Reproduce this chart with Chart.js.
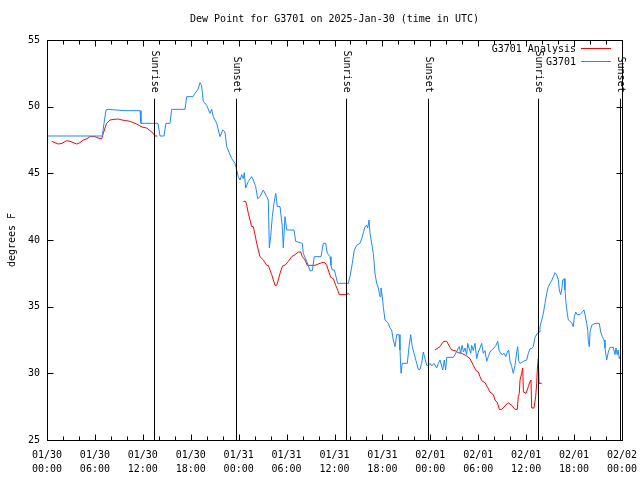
<!DOCTYPE html>
<html>
<head>
<meta charset="utf-8">
<script src="https://cdn.jsdelivr.net/npm/chart.js@4.4.1/dist/chart.umd.min.js"></script>
<style>
  body { margin: 0; background: #fff; }
</style>
</head>
<body>
<canvas id="dewChart" width="640" height="480"></canvas>
<script>
// all times are hours after 2025-01-30 00:00 UTC
const stationHours = [
  0, 6.92, 7.14, 7.39, 7.64, 9.77, 11.65, 11.77, 13.9, 14.15, 14.65, 14.9, 15.4, 15.61, 17.28, 17.49,
  18.28, 18.53, 18.91, 19.16, 19.35, 19.57, 20.0, 20.41, 20.62, 20.82, 21.25, 21.66, 22.0, 22.29, 22.5,
  23.13, 23.54, 23.75, 23.95, 24.17, 24.38, 24.58, 24.71, 24.88, 25.21, 25.63, 25.83, 26.13, 26.38,
  26.67, 27.09, 27.51, 27.71, 27.84, 28.01, 28.21, 28.42, 28.64, 28.84, 29.18, 29.46, 29.59, 29.8,
  30.02, 30.93, 31.14, 31.97, 32.09, 32.52, 32.93, 33.22, 33.47, 34.31, 34.6, 34.9, 35.1, 35.44,
  35.56, 35.72, 35.98, 36.19, 36.4, 37.73, 37.94, 38.23, 38.48, 38.78, 39.19, 39.41, 39.82, 40.03,
  40.16, 40.32, 40.45, 40.86, 41.07, 41.28, 41.49, 41.7, 41.82, 41.99, 42.11, 42.32, 42.74, 42.95,
  43.16, 43.36, 43.58, 43.79, 44.08, 44.2, 44.33, 44.49, 45.12, 45.33, 45.54, 45.74, 45.96, 46.29,
  46.49, 46.71, 46.92, 47.12, 47.33, 47.55, 47.75, 47.96, 48.17, 48.46, 48.8, 49.0, 49.21, 49.55,
  49.75, 49.92, 50.05, 50.88, 51.09, 51.38, 51.63, 51.8, 51.97, 52.15, 52.34, 52.55, 52.68, 52.84,
  53.06, 53.18, 53.38, 53.59, 53.81, 54.01, 54.22, 54.43, 54.63, 54.84, 55.06, 55.26, 55.47, 55.68,
  55.97, 56.22, 56.44, 56.6, 56.81, 57.01, 57.23, 57.44, 57.64, 57.81, 57.98, 58.19, 58.39, 58.6,
  58.82, 58.94, 59.07, 59.23, 59.64, 60.07, 60.27, 60.48, 60.69, 60.89, 61.11, 61.4, 61.61, 61.73,
  61.95, 62.15, 62.36, 62.57, 62.77, 62.99, 63.2, 63.4, 63.61, 63.82, 64.03, 64.15, 64.33, 64.45,
  64.58, 64.74, 64.86, 64.99, 65.15, 65.28, 65.49, 65.7, 65.9, 66.03, 66.2, 66.4, 66.74, 67.03,
  67.24, 67.37, 67.58, 67.71, 67.78, 67.91, 68.0, 68.21, 68.62, 69.16, 69.33, 69.53, 69.75, 69.87,
  70.08, 70.29, 70.5, 70.91, 71.12, 71.25, 71.39, 71.52, 71.66, 71.75
];
const stationDew = [
  47.8, 47.8, 48.75, 49.75, 49.8, 49.7, 49.7, 48.75, 48.75, 47.8, 47.8, 48.75, 48.75, 49.8, 49.8, 50.75,
  50.75, 51.0, 51.3, 51.8, 51.6, 50.4, 50.1, 49.5, 49.8, 49.25, 48.75, 47.75, 48.25, 48.1, 47.0,
  46.1, 45.75, 45.25, 44.75, 44.5, 44.9, 44.6, 45.05, 43.9, 44.4, 44.75, 44.5, 44.0, 43.1,
  43.25, 43.75, 43.25, 43.0, 39.4, 40.25, 41.75, 42.75, 43.5, 42.5, 42.5, 41.0, 39.4, 41.75,
  40.75, 40.75, 39.9, 39.75, 39.0, 38.4, 37.7, 37.7, 38.75, 38.75, 39.75, 39.75, 39.0, 38.75,
  38.1, 37.75, 37.75, 37.25, 36.75, 36.75, 37.25, 38.25, 39.25, 39.6, 39.75, 40.1, 41.0, 41.1,
  40.9, 41.5, 40.5, 39.0, 37.5, 36.75, 36.4, 35.75, 36.4, 35.75, 35.0, 34.0, 33.75, 33.4,
  33.25, 32.5, 32.0, 32.9, 32.9, 31.75, 30.0, 30.75, 30.75, 32.0, 32.9, 32.0, 31.5, 30.75,
  30.3, 30.3, 30.75, 31.6, 31.1, 30.6, 30.6, 30.75, 30.55, 30.75, 30.4, 30.75, 31.0, 30.25,
  31.0, 30.25, 31.2, 31.2, 31.4, 31.75, 32.0, 31.5, 32.1, 31.6, 31.9, 31.4, 32.25, 31.9,
  31.5, 32.1, 31.7, 32.25, 31.1, 31.6, 31.9, 32.25, 31.5, 31.7, 30.9, 31.25, 31.6, 31.75,
  31.9, 32.1, 32.4, 31.75, 31.5, 31.4, 31.5, 31.25, 31.6, 31.75, 30.9, 30.5, 30.0, 30.6,
  31.6, 32.0, 30.9, 30.75, 30.9, 31.0, 31.5, 31.85, 31.85, 32.0, 32.7, 33.0, 33.1, 33.5,
  34.0, 34.5, 35.25, 36.0, 36.5, 36.75, 36.95, 37.25, 37.55, 37.4, 37.0, 36.25, 35.9, 36.25,
  37.0, 37.1, 36.25, 35.25, 34.5, 34.0, 33.9, 33.8, 33.5, 34.25, 34.6, 34.4, 34.4, 34.6,
  34.75, 34.4, 33.75, 33.25, 32.4, 32.0, 33.1, 33.6, 33.75, 33.75, 33.1, 32.75, 32.5, 31.9,
  31.0, 31.6, 31.95, 31.95, 31.4, 31.9, 31.4, 31.75, 31.1, 31.25
];

// analysis has no values during daylight (null = gap)
const analysisHours = [
  0.59, 1.42, 1.88, 2.47, 2.88, 3.72, 4.13, 4.55, 5.01, 5.38, 6.01, 6.39, 6.85, 7.05, 7.26, 7.47,
  7.89, 8.39, 8.93, 9.39, 9.98, 10.39, 10.8, 11.23, 11.65, 12.03, 12.48, 12.9, 13.3, 13.52, 13.81,
  19,
  24.58, 24.88, 25.01, 25.21, 25.42, 25.63, 25.83, 26.05, 26.26, 26.46, 26.67, 27.09, 27.51, 27.71,
  27.92, 28.14, 28.34, 28.55, 28.76, 28.96, 29.18, 29.39, 29.59, 29.8, 30.22, 30.64, 31.05, 31.47,
  31.77, 31.97, 32.31, 32.59, 33.02, 33.56, 33.97, 34.4, 34.81, 35.02, 35.22, 35.52, 35.85, 36.15,
  36.4, 36.6, 37.53, 37.73, 37.85,
  43,
  48.58, 49.21, 49.52, 49.71, 50.05, 50.46, 50.68, 51.09, 51.5, 51.93, 52.55, 52.97, 53.38, 53.72,
  54.01, 54.22, 54.43, 54.84, 55.13, 55.47, 55.89, 56.1, 56.39, 56.64, 56.94, 57.35, 57.73, 58.19,
  58.6, 58.89, 59.01, 59.14, 59.23, 59.44, 59.57, 59.65, 59.98, 60.27, 60.48, 60.6, 60.69, 60.98,
  61.19, 61.32, 61.39, 61.52, 61.61, 61.95
];
const analysisDew = [
  47.4, 47.2, 47.25, 47.45, 47.4, 47.2, 47.3, 47.5, 47.6, 47.75, 47.75, 47.65, 47.6, 48.0, 48.4, 48.75,
  49.0, 49.05, 49.07, 49.0, 48.95, 48.9, 48.8, 48.7, 48.55, 48.45, 48.4, 48.2, 48.0, 47.8, 47.8,
  null,
  42.9, 42.9, 42.6, 42.0, 41.5, 41.0, 41.0, 40.4, 39.75, 39.25, 38.75, 38.5, 38.1, 38.1,
  37.75, 37.4, 37.0, 36.6, 36.6, 37.0, 37.5, 37.9, 38.1, 38.1, 38.4, 38.75, 38.9, 39.1,
  39.1, 38.75, 38.5, 38.1, 38.1, 38.1, 38.2, 38.3, 38.3, 38.1, 37.75, 37.2, 37.1, 36.6,
  36.25, 35.9, 35.9, 36.0, 35.9,
  null,
  31.75, 32.0, 32.3, 32.4, 32.4, 31.95, 31.75, 31.7, 31.55, 31.5, 31.3, 31.1, 30.6, 30.2,
  30.1, 29.75, 29.45, 29.3, 29.0, 28.6, 28.4, 28.0, 27.8, 27.3, 27.3, 27.55, 27.8, 27.6,
  27.3, 27.3, 28.25, 28.5, 29.5, 30.0, 30.4, 28.6, 28.5, 29.0, 29.4, 29.5, 27.4, 27.4,
  28.25, 29.25, 30.25, 31.1, 29.25, 29.25
];

const sunNames = ['Sunrise', 'Sunset', 'Sunrise', 'Sunset', 'Sunrise', 'Sunset'];
const sunHours = [13.45, 23.7, 37.45, 47.75, 61.5, 71.8];

const dayLabels = ['01/30', '01/30', '01/30', '01/30', '01/31', '01/31', '01/31', '01/31',
  '02/01', '02/01', '02/01', '02/01', '02/02'];
const timeLabels = ['00:00', '06:00', '12:00', '18:00', '00:00', '06:00', '12:00', '18:00',
  '00:00', '06:00', '12:00', '18:00', '00:00'];

const mono = '"DejaVu Sans Mono", "Liberation Mono", monospace';

function toPoints(xs, ys) {
    return xs.map((x, i) => ({ x: x, y: ys[i] }));
}

// gnuplot style frame, inward ticks, sun markers, title and legend
const gnuplotDecor = {
    id: 'gnuplotDecor',
    afterDraw(chart) {
        const ctx = chart.ctx;
        const area = chart.chartArea;
        const xs = chart.scales.x;
        const ys = chart.scales.y;
        const L = Math.round(area.left) + 0.5, R = Math.round(area.right) + 0.5;
        const T = Math.round(area.top) + 0.5, B = Math.round(area.bottom) + 0.5;
        ctx.save();
        ctx.strokeStyle = '#000';
        ctx.lineWidth = 1;
        ctx.strokeRect(L, T, R - L, B - T);

        ctx.beginPath();
        for (let h = 0; h <= 72; h += 2) {
            const px = Math.round(xs.getPixelForValue(h)) + 0.5;
            const len = h % 6 === 0 ? 6 : 4;
            ctx.moveTo(px, B); ctx.lineTo(px, B - len);
            ctx.moveTo(px, T); ctx.lineTo(px, T + len);
        }
        for (let v = 25; v <= 55; v += 5) {
            const py = Math.round(ys.getPixelForValue(v)) + 0.5;
            ctx.moveTo(L, py); ctx.lineTo(L + 6, py);
            ctx.moveTo(R, py); ctx.lineTo(R - 6, py);
        }
        ctx.stroke();

        // sunrise / sunset markers
        ctx.fillStyle = '#000';
        ctx.font = '10px ' + mono;
        sunHours.forEach((h, i) => {
            const px = Math.round(xs.getPixelForValue(h)) + 0.5;
            const top = ys.getPixelForValue(50.6);
            ctx.beginPath();
            ctx.moveTo(px, B);
            ctx.lineTo(px, top);
            ctx.stroke();
            ctx.save();
            ctx.translate(px, top - 6);
            ctx.rotate(Math.PI / 2);
            ctx.textAlign = 'right';
            ctx.textBaseline = 'middle';
            ctx.fillText(sunNames[i], 0, 0);
            ctx.restore();
        });

        // title
        ctx.textAlign = 'center';
        ctx.textBaseline = 'middle';
        ctx.fillText('Dew Point for G3701 on 2025-Jan-30 (time in UTC)', (area.left + area.right) / 2, 19);

        // legend
        const rows = [chart.data.datasets[1], chart.data.datasets[0]];
        rows.forEach((ds, i) => {
            const y = 49 + i * 13;
            ctx.textAlign = 'right';
            ctx.fillStyle = '#000';
            ctx.fillText(ds.label, 576, y);
            ctx.strokeStyle = ds.borderColor;
            ctx.beginPath();
            ctx.moveTo(581, y - 0.5);
            ctx.lineTo(611, y - 0.5);
            ctx.stroke();
        });
        ctx.restore();
    }
};

new Chart(document.getElementById('dewChart'), {
    type: 'line',
    data: {
        datasets: [{
            label: 'G3701',
            data: toPoints(stationHours, stationDew),
            borderColor: '#1e88ff',
            borderWidth: 1,
            pointRadius: 0,
            tension: 0,
            order: 0
        }, {
            label: 'G3701 Analysis',
            data: toPoints(analysisHours, analysisDew),
            borderColor: '#ff0000',
            borderWidth: 1,
            pointRadius: 0,
            tension: 0,
            spanGaps: false,
            order: 1
        }]
    },
    options: {
        responsive: false,
        animation: false,
        layout: { padding: { top: 40, right: 18, left: 0, bottom: 0 } },
        plugins: {
            legend: { display: false },
            title: { display: false },
            tooltip: { enabled: false }
        },
        scales: {
            x: {
                type: 'linear',
                min: 0,
                max: 72,
                grid: { display: false, tickLength: 0 },
                border: { display: false },
                ticks: {
                    stepSize: 6,
                    autoSkip: false,
                    maxRotation: 0,
                    padding: 8,
                    color: '#000',
                    font: { family: mono, size: 10, lineHeight: 1.4 },
                    callback: v => [dayLabels[v / 6], timeLabels[v / 6]]
                },
                afterFit: s => {
                    s.height = 40;
                    s.paddingLeft = 0;
                    s.paddingRight = 0;
                }
            },
            y: {
                min: 25,
                max: 55,
                grid: { display: false, tickLength: 0 },
                border: { display: false },
                ticks: {
                    stepSize: 5,
                    padding: 7,
                    color: '#000',
                    font: { family: mono, size: 10 }
                },
                title: {
                    display: true,
                    text: 'degrees F',
                    color: '#000',
                    padding: { top: 6, bottom: 0 },
                    font: { family: mono, size: 10 }
                },
                afterFit: s => { s.width = 47; }
            }
        }
    },
    plugins: [gnuplotDecor]
});
</script>
</body>
</html>
